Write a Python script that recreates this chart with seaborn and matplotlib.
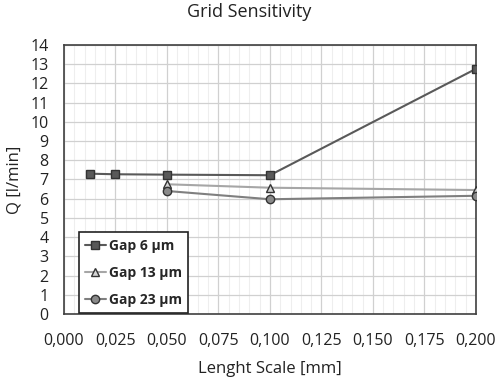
import matplotlib
matplotlib.use("Agg")
import matplotlib.pyplot as plt
import seaborn as sns
import pandas as pd
from matplotlib.ticker import MultipleLocator, FuncFormatter

x_gap6 = [0.0125, 0.025, 0.05, 0.1, 0.2]
y_gap6 = [7.3, 7.27, 7.25, 7.22, 12.75]
x_gap13 = [0.05, 0.1, 0.2]
y_gap13 = [6.75, 6.57, 6.45]
x_gap23 = [0.05, 0.1, 0.2]
y_gap23 = [6.4, 5.97, 6.15]
labels = ["Gap 6 µm", "Gap 13 µm", "Gap 23 µm"]

sns.set_style("white")
plt.rcParams['font.family'] = ['Open Sans', 'DejaVu Sans']

fig = plt.figure(figsize=(4.98, 3.77), dpi=100)
ax = fig.add_axes([0.1285, 0.167, 0.827, 0.714])

styles = [
    dict(color="#595959", marker="s", mfc="#595959", mec="#333333", ms=5.5),
    dict(color="#a6a6a6", marker="^", mfc="#d4d4d4", mec="#333333", ms=6),
    dict(color="#7f7f7f", marker="o", mfc="#8a8a8a", mec="#333333", ms=6),
]
for xs, ys, lab, st in zip([x_gap6, x_gap13, x_gap23], [y_gap6, y_gap13, y_gap23], labels, styles):
    df = pd.DataFrame({"x": xs, "y": ys})
    sns.lineplot(data=df, x="x", y="y", ax=ax, color=st["color"], marker=st["marker"],
                 markerfacecolor=st["mfc"], markeredgecolor=st["mec"], markersize=st["ms"],
                 markeredgewidth=1.0, linewidth=1.5, label=lab, zorder=3)

ax.set_xlim(0, 0.2)
ax.set_ylim(0, 14)
ax.xaxis.set_major_locator(MultipleLocator(0.025))
ax.xaxis.set_minor_locator(MultipleLocator(0.005))
ax.yaxis.set_major_locator(MultipleLocator(1))
ax.xaxis.set_major_formatter(FuncFormatter(lambda v, p: f"{v:.3f}".replace(".", ",")))
ax.grid(which="major", color="#d0d0d0", linewidth=0.9)
ax.grid(which="minor", axis="x", color="#eeeeee", linewidth=0.8)
ax.set_axisbelow(True)
for s in ax.spines.values():
    s.set_color("#404040")
    s.set_linewidth(1.2)
ax.tick_params(axis="both", length=0, labelsize=11.5, colors="#222222")
ax.tick_params(axis="x", pad=14)
ax.tick_params(axis="y", pad=11)

ax.set_xlabel("Lenght Scale [mm]", fontsize=12, color="#222222", labelpad=8)
ax.set_ylabel("Q [l/min]", fontsize=12, color="#222222", labelpad=6)
fig.text(0.5, 0.968, "Grid Sensitivity", ha="center", va="center", fontsize=13, color="#222222")

leg = ax.legend(loc="lower left", bbox_to_anchor=(0.036, 0.003), borderaxespad=0, frameon=True,
                fancybox=False, edgecolor="#222222", framealpha=1,
                prop={"weight": "bold", "size": 10},
                handlelength=1.5, handletextpad=0.2, borderpad=0.45, labelspacing=0.95)
leg.get_frame().set_linewidth(1.2)

fig.savefig("out.png", dpi=100)
